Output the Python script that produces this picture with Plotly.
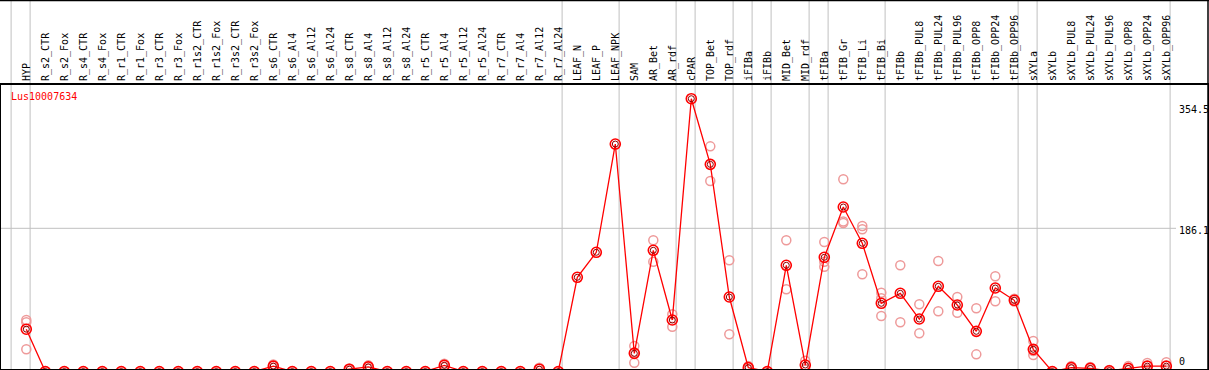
import plotly.graph_objects as go

categories = [
    "HYP",
    "R_s2_CTR", "R_s2_Fox", "R_s4_CTR", "R_s4_Fox", "R_r1_CTR", "R_r1_Fox",
    "R_r3_CTR", "R_r3_Fox", "R_r1s2_CTR", "R_r1s2_Fox", "R_r3s2_CTR", "R_r3s2_Fox",
    "R_s6_CTR", "R_s6_Al4", "R_s6_Al12", "R_s6_Al24",
    "R_s8_CTR", "R_s8_Al4", "R_s8_Al12", "R_s8_Al24",
    "R_r5_CTR", "R_r5_Al4", "R_r5_Al12", "R_r5_Al24",
    "R_r7_CTR", "R_r7_Al4", "R_r7_Al12", "R_r7_Al24",
    "LEAF_N", "LEAF_P", "LEAF_NPK",
    "SAM", "AR_Bet", "AR_rdf", "cPAR", "TOP_Bet", "TOP_rdf",
    "iFIBa", "iFIBb", "MID_Bet", "MID_rdf",
    "tFIBa", "tFIB_Gr", "tFIB_Li", "tFIB_Bi",
    "tFIBb", "tFIBb_PUL8", "tFIBb_PUL24", "tFIBb_PUL96",
    "tFIBb_OPP8", "tFIBb_OPP24", "tFIBb_OPP96",
    "sXYLa", "sXYLb", "sXYLb_PUL8", "sXYLb_PUL24", "sXYLb_PUL96",
    "sXYLb_OPP8", "sXYLb_OPP24", "sXYLb_OPP96",
]

mean_values = [
    55,
    0, 0, 0, 0, 0, 0, 0, 0, 0, 0, 0, 0,
    7, 0, 0, 0,
    3, 6, 0, 0,
    0, 8, 0, 0,
    0, 0, 3, 0,
    122.4, 154.9, 295.6,
    23.6, 157.5, 66.9, 354.5, 269.2, 96.8,
    5, 0, 138.0, 8.4,
    148.4, 213.8, 166.6, 88.6,
    101.6, 68.2, 110.7, 86.4,
    52.2, 108.5, 92.5,
    28.8, 0, 5, 4, 1,
    4, 7, 7,
]

rep1 = [
    67,
    0, 0, 0, 0, 0, 0, 0, 0, 0, 0, 0, 0,
    9, 0, 0, 0,
    4, 8, 0, 0,
    0, 10, 0, 0,
    0, 0, 5, 0,
    None, None, None,
    33.1, 170.5, 74.3, None, 292.6, 144.5,
    7, 0, 170.5, 14,
    168.3, 249.8, 189.1, 102.4,
    138.0, 87.3, 143.6, 96.8,
    82.1, 123.7, 94.6,
    39.6, 0, 7, 6, 2,
    7, 11, 12,
]

rep2 = [
    64,
    0, 0, 0, 0, 0, 0, 0, 0, 0, 0, 0, 0,
    5, 0, 0, 0,
    2, 4, 0, 0,
    0, 6, 0, 0,
    0, 0, 1, 0,
    None, None, None,
    11.4, 142.7, 58.2, None, 247.6, 48.3,
    3, 0, 106.8, 3,
    142.7, 195.0, 184.8, 95.1,
    63.9, 49.6, 78.2, 76.4,
    22.3, 91.2, 91.0,
    26.6, 0, 3, 2, 0,
    2, 3, 3,
]

rep3 = [
    29,
    None, None, None, None, None, None, None, None, None, None, None, None,
    None, None, None, None,
    None, None, None, None,
    None, None, None, None,
    None, None, None, None,
    None, None, None,
    25, None, None, None, None, None,
    None, None, None, None,
    136.2, 193.0, 126.3, 72.1,
    None, None, None, None,
    None, None, None,
    21.4, None, None, None, None,
    None, None, None,
]

series_name = "Lus10007634"
axis_labels = ["354.5", "186.1", "0"]
group_bounds = [-0.8, 0.2, 28.2, 31.2, 34.2, 35.2, 37.2, 38.2, 39.2,
                41.2, 42.2, 45.2, 52.2, 53.2, 60.2]
grid_value = 186.1

# ---- layout geometry (pixels) ----
W, H = 1209, 370
ML, MR, MT, MB = 1, 1, 85, 1
PW = W - ML - MR
PH = H - MT - MB
x0_px, step_px = 26.3, 19.0          # position of first category, spacing
zero_px, scale = 371.5, 0.7695        # pixel of value 0, px per unit

x_min = -(x0_px - ML) / step_px
x_max = (W - MR - x0_px) / step_px
y_min = (zero_px - (H - MB)) / scale
y_max = (zero_px - MT) / scale


def px_x(p):
    return (p - ML) / PW


def px_y(p):
    return (H - MB - p) / PH


x_idx = list(range(len(categories)))

rx, ry = [], []
for reps in (rep1, rep2, rep3):
    for i, v in enumerate(reps):
        if v is not None:
            rx.append(i)
            ry.append(v)

mono = "DejaVu Sans Mono"

fig = go.Figure()
fig.add_trace(go.Scatter(
    x=rx, y=ry, mode="markers",
    marker=dict(symbol="circle-open", size=9, color="#ee9a9a",
                line=dict(width=1.5, color="#ee9a9a")),
    hoverinfo="skip", showlegend=False,
))
fig.add_trace(go.Scatter(
    x=x_idx, y=mean_values, mode="lines+markers",
    line=dict(color="#ff0000", width=1.3),
    marker=dict(symbol="circle-open", size=10, color="#ff0000",
                line=dict(width=1.6, color="#ff0000")),
    showlegend=False,
))
fig.add_trace(go.Scatter(
    x=x_idx, y=mean_values, mode="markers",
    marker=dict(symbol="circle-open", size=6, color="#8a0000",
                line=dict(width=1, color="#8a0000")),
    hoverinfo="skip", showlegend=False,
))

shapes = []
for b in group_bounds:
    shapes.append(dict(type="line", xref="x", yref="paper",
                       x0=b, x1=b, y0=0, y1=px_y(0),
                       line=dict(color="#c0c0c0", width=1), layer="below"))
shapes.append(dict(type="line", xref="paper", yref="y",
                   x0=px_x(0), x1=px_x(1176), y0=grid_value, y1=grid_value,
                   line=dict(color="#c0c0c0", width=1), layer="below"))
# outer frame parts above plot area
shapes.append(dict(type="line", xref="paper", yref="paper",
                   x0=px_x(0), x1=px_x(W), y0=px_y(0.5), y1=px_y(0.5),
                   line=dict(color="black", width=1.5)))
shapes.append(dict(type="line", xref="paper", yref="paper",
                   x0=px_x(1208), x1=px_x(1208), y0=px_y(0), y1=px_y(H),
                   line=dict(color="black", width=1.5)))

annotations = [
    dict(text=series_name, xref="paper", yref="paper",
         x=px_x(9), y=px_y(96.7), xanchor="left", yanchor="middle",
         showarrow=False, font=dict(family=mono, size=10, color="#ff0000")),
]
for lab, ypx, xpx in zip(axis_labels, [109, 230, 361.7], [1177, 1177, 1177]):
    annotations.append(dict(text=lab, xref="paper", yref="paper",
                            x=px_x(xpx), y=px_y(ypx), xanchor="left",
                            yanchor="middle", showarrow=False,
                            font=dict(family=mono, size=10, color="black")))

fig.update_layout(
    template="none",
    width=W, height=H,
    margin=dict(l=ML, r=MR, t=MT, b=MB, pad=0),
    paper_bgcolor="white",
    plot_bgcolor="rgba(0,0,0,0)",
    showlegend=False,
    shapes=shapes,
    annotations=annotations,
    xaxis=dict(
        range=[x_min, x_max], side="top",
        tickmode="array", tickvals=x_idx, ticktext=categories,
        tickangle=-90, tickfont=dict(family=mono, size=10, color="black"),
        ticks="", showgrid=False, zeroline=False,
        showline=True, mirror=True, linecolor="black", linewidth=2,
        automargin=False, fixedrange=True,
    ),
    yaxis=dict(
        range=[y_min, y_max], showticklabels=False, ticks="",
        showgrid=False, zeroline=False,
        showline=True, mirror=True, linecolor="black", linewidth=2,
        automargin=False, fixedrange=True,
    ),
)

fig.write_html(
    "out.html",
    config={"displayModeBar": False},
    post_script="document.body.style.margin='0px';document.body.style.overflow='hidden';",
)
